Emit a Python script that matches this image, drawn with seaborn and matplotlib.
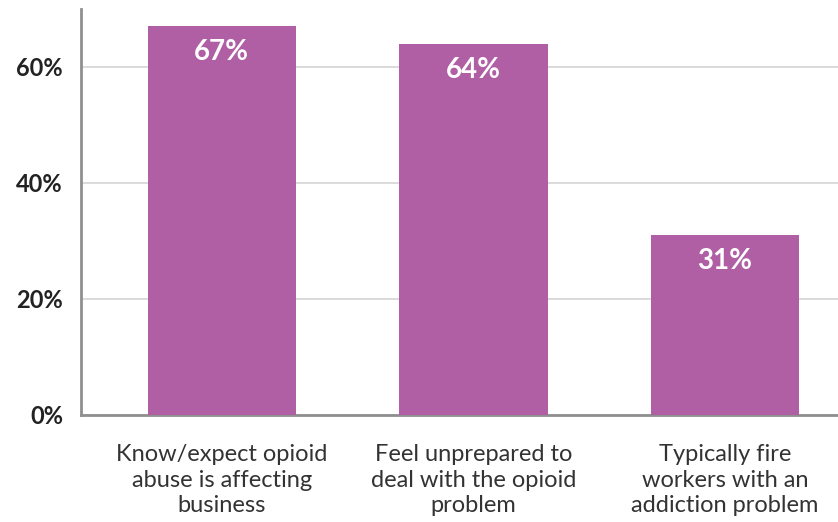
import matplotlib
matplotlib.use("Agg")
import matplotlib.pyplot as plt
import seaborn as sns
import pandas as pd

categories = ["Know/expect opioid\nabuse is affecting\nbusiness",
              "Feel unprepared to\ndeal with the opioid\nproblem",
              "Typically fire\nworkers with an\naddiction problem"]
values = [67, 64, 31]
value_labels = ["67%", "64%", "31%"]
yticks = [0, 20, 40, 60]
ytick_labels = ["0%", "20%", "40%", "60%"]

sns.set_theme(style="white")
plt.rcParams['font.family'] = ['Lato', 'DejaVu Sans']

df = pd.DataFrame({"cat": categories, "val": values})

fig = plt.figure(figsize=(8.38, 5.22), dpi=100)
ax = fig.add_axes([81/838, 1 - 415/522, (838 - 81)/838, (415 - 9)/522])

sns.barplot(data=df, x="cat", y="val", color="#b05fa5", saturation=1,
            width=0.59, ax=ax, zorder=3, linewidth=0)

ax.set_xlim(-0.56, 2.45)
ax.set_ylim(0, 70)
ax.set_yticks(yticks)
ax.set_yticklabels(ytick_labels, fontsize=17, fontweight="bold", color="#222222")
ax.tick_params(axis="x", labelsize=17, labelcolor="#333333", length=0, pad=21)
ax.tick_params(axis="y", length=0, pad=13)
for lab in ax.get_xticklabels():
    lab.set_linespacing(1.27)
ax.set_xlabel("")
ax.set_ylabel("")
ax.yaxis.grid(True, color="#d4d4d4", linewidth=1.2, zorder=0)
ax.set_axisbelow(True)

for s in ["top", "right"]:
    ax.spines[s].set_visible(False)
for s in ["left", "bottom"]:
    ax.spines[s].set_color("#8f8f8f")
    ax.spines[s].set_linewidth(2)

for i, (v, t) in enumerate(zip(values, value_labels)):
    ax.text(i, v - 2.2, t, ha="center", va="top", color="white",
            fontsize=20, fontweight="bold", zorder=4)

fig.savefig("out.png", dpi=100)
